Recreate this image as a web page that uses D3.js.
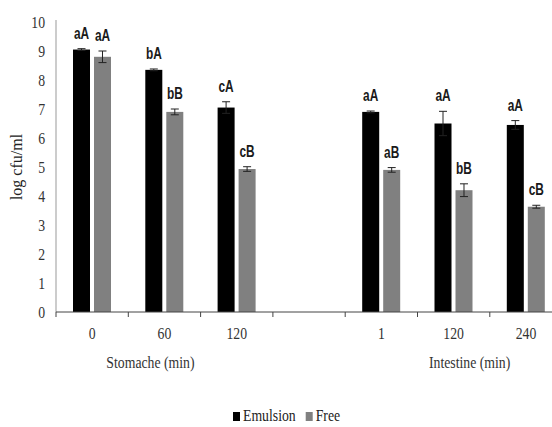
<!DOCTYPE html>
<html>
<head>
<meta charset="utf-8">
<script src="https://cdn.jsdelivr.net/npm/d3@7"></script>
<style>
  body { margin: 0; background: #fff; }
  svg { display: block; }
</style>
</head>
<body>
<script>
// categories (the empty slot is the gap between stomach and intestine)
const categories = ['s0', 's60', 's120', 'gap', 'i1', 'i120', 'i240'];
const tickLabels = ['0', '60', '120', '', '1', '120', '240'];
const series = ['Emulsion', 'Free'];

// log cfu/ml and error bars
const emulsion = [9.05, 8.35, 7.05, null, 6.9, 6.5, 6.45];
const emulsionErr = [0.03, 0.03, 0.2, null, 0.03, 0.42, 0.15];
const free = [8.8, 6.9, 4.93, null, 4.9, 4.2, 3.63];
const freeErr = [0.2, 0.1, 0.08, null, 0.08, 0.22, 0.05];

// significance letters
const emulsionLetters = ['aA', 'bA', 'cA', '', 'aA', 'aA', 'aA'];
const freeLetters = ['aA', 'bB', 'cB', '', 'aB', 'bB', 'cB'];

const groupLabels = ['Stomache (min)', 'Intestine (min)'];
const groupAt = ['s60', 'i120'];

const width = 552, height = 427;
const colors = { Emulsion: '#000000', Free: '#808080' };
const serif = '"Liberation Serif", "DejaVu Serif", serif';
const sans = '"Liberation Sans", "DejaVu Sans", sans-serif';

const svg = d3.select('body')
    .append('svg')
    .attr('width', width)
    .attr('height', height);

const x = d3.scaleBand()
    .domain(categories)
    .range([56, 56 + 7 * 72.3]);

const xInner = d3.scaleBand()
    .domain(series)
    .range([17, 55])
    .paddingInner(0.19);

const y = d3.scaleLinear()
    .domain([0, 10])
    .range([312, 22]);

// narrow, tall text like the squeezed original
const squeeze = 0.86;
function narrowText(sel, fx, fy) {
    return sel.attr('transform', (d, i) => `translate(${fx(d, i)},${fy(d, i)}) scale(${squeeze},1)`);
}

// build rows from the arrays
const rows = [];
categories.forEach((c, i) => {
    if (emulsion[i] == null) return;
    rows.push({ cat: c, s: 'Emulsion', v: emulsion[i], e: emulsionErr[i], l: emulsionLetters[i] });
    rows.push({ cat: c, s: 'Free', v: free[i], e: freeErr[i], l: freeLetters[i] });
});

// y axis line + labels
svg.append('line')
    .attr('x1', 56).attr('x2', 56)
    .attr('y1', y(10) - 2).attr('y2', y(0))
    .attr('stroke', '#999');

narrowText(svg.selectAll('.ytick')
    .data(d3.range(0, 11))
    .enter()
    .append('text')
    .attr('class', 'ytick'), () => 45, d => y(d))
    .attr('dy', '0.35em')
    .attr('text-anchor', 'end')
    .attr('font-family', serif)
    .attr('font-size', 16)
    .attr('fill', '#333')
    .text(d => d);

svg.append('text')
    .attr('transform', `translate(22,${y(5)}) rotate(-90)`)
    .attr('text-anchor', 'middle')
    .attr('font-family', serif)
    .attr('font-size', 16)
    .attr('fill', '#222')
    .text('log cfu/ml');

// bars
svg.selectAll('.bar')
    .data(rows)
    .enter()
    .append('rect')
    .attr('class', 'bar')
    .attr('x', d => x(d.cat) + xInner(d.s))
    .attr('width', xInner.bandwidth())
    .attr('y', d => y(d.v))
    .attr('height', d => y(0) - y(d.v))
    .attr('fill', d => colors[d.s]);

// error bars
const err = svg.selectAll('.err')
    .data(rows)
    .enter()
    .append('g')
    .attr('class', 'err')
    .attr('stroke', '#222')
    .attr('stroke-width', 1);

const cx = d => x(d.cat) + xInner(d.s) + xInner.bandwidth() / 2;

err.append('line')
    .attr('x1', cx).attr('x2', cx)
    .attr('y1', d => y(d.v + d.e)).attr('y2', d => y(d.v - d.e));
err.append('line')
    .attr('x1', d => cx(d) - 4).attr('x2', d => cx(d) + 4)
    .attr('y1', d => y(d.v + d.e)).attr('y2', d => y(d.v + d.e));
err.append('line')
    .attr('x1', d => cx(d) - 4).attr('x2', d => cx(d) + 4)
    .attr('y1', d => y(d.v - d.e)).attr('y2', d => y(d.v - d.e));

// letters
svg.selectAll('.letter')
    .data(rows)
    .enter()
    .append('text')
    .attr('class', 'letter')
    .attr('transform', d => `translate(${cx(d)},${y(d.v + d.e) - 10}) scale(0.7,1)`)
    .attr('text-anchor', 'middle')
    .attr('font-family', sans)
    .attr('font-weight', 'bold')
    .attr('font-size', 17)
    .attr('fill', '#1a1a1a')
    .text(d => d.l);

// x axis
const xAxis = svg.append('g');
xAxis.append('line')
    .attr('x1', 56).attr('x2', width)
    .attr('y1', y(0)).attr('y2', y(0))
    .attr('stroke', '#444');

xAxis.selectAll('.xtick')
    .data(categories)
    .enter()
    .append('line')
    .attr('x1', d => x(d)).attr('x2', d => x(d))
    .attr('y1', y(0)).attr('y2', y(0) + 5)
    .attr('stroke', '#444');

narrowText(xAxis.selectAll('.xlabel')
    .data(categories)
    .enter()
    .append('text'), d => x(d) + x.bandwidth() / 2, () => 339)
    .attr('text-anchor', 'middle')
    .attr('font-family', serif)
    .attr('font-size', 16)
    .attr('fill', '#333')
    .text((d, i) => tickLabels[i]);

const groupDx = [-14, 16];
narrowText(xAxis.selectAll('.group')
    .data(groupLabels)
    .enter()
    .append('text'), (d, i) => x(groupAt[i]) + x.bandwidth() / 2 + groupDx[i], () => 368)
    .attr('text-anchor', 'middle')
    .attr('font-family', serif)
    .attr('font-size', 16)
    .attr('fill', '#333')
    .text(d => d);

// legend
const legend = svg.append('g').attr('transform', 'translate(233,421)');
let lx = 0;
series.forEach(s => {
    const g = legend.append('g').attr('transform', `translate(${lx},0)`);
    g.append('rect')
        .attr('x', 0).attr('y', -9)
        .attr('width', 7).attr('height', 9)
        .attr('fill', colors[s]);
    const t = g.append('text')
        .attr('transform', `translate(10,0) scale(${squeeze},1)`)
        .attr('font-family', serif)
        .attr('font-size', 16)
        .attr('fill', '#222')
        .text(s);
    lx += 10 + t.node().getComputedTextLength() * squeeze + 10;
});
</script>
</body>
</html>
